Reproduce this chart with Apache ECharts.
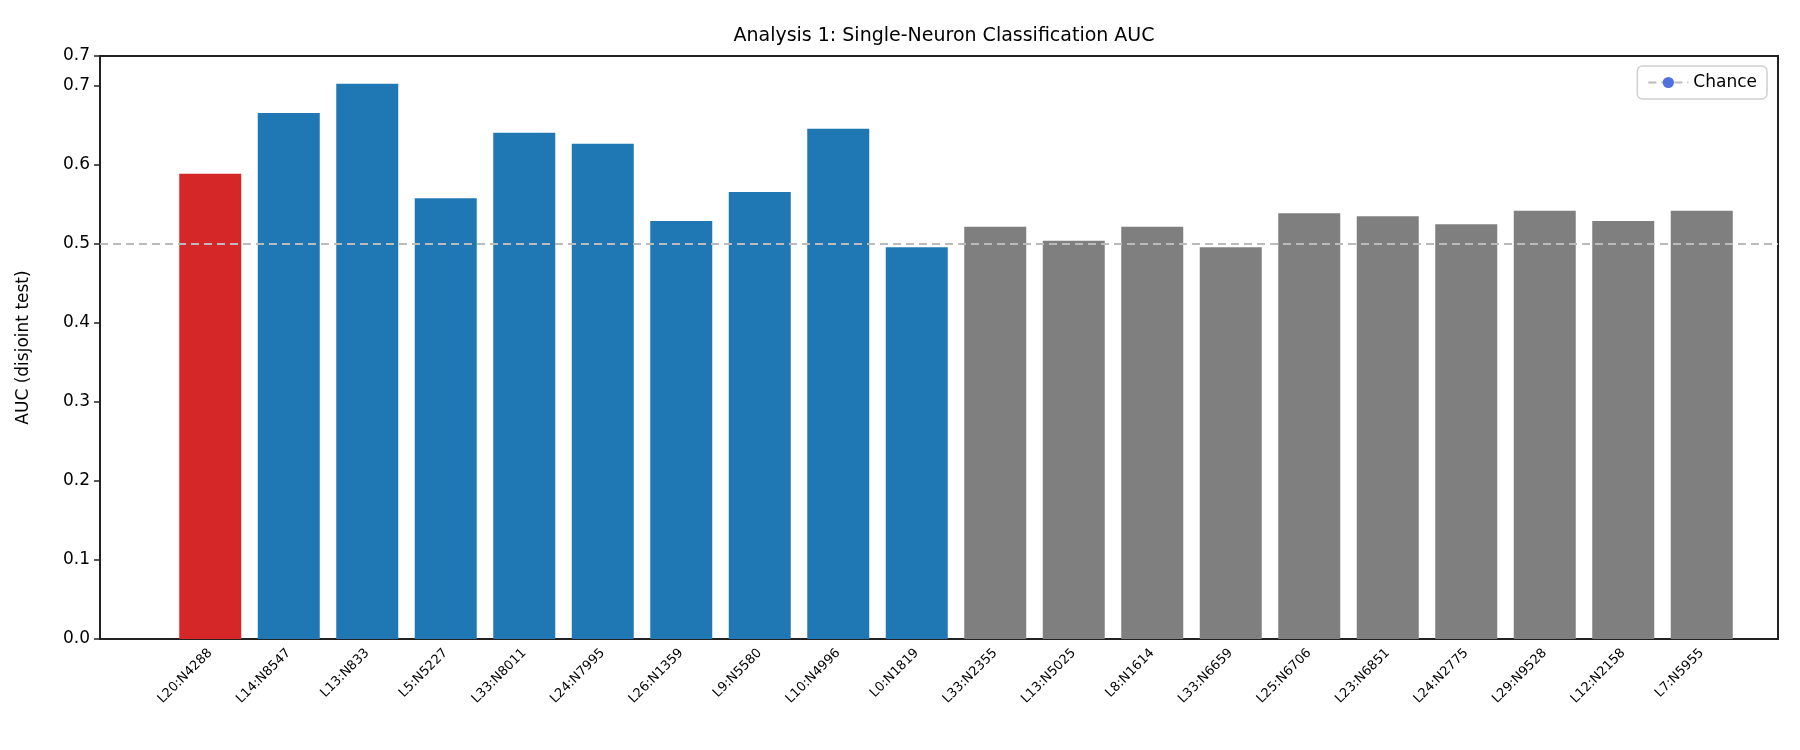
<!DOCTYPE html>
<html>
<head>
<meta charset="utf-8">
<title>Analysis 1</title>
<script src="https://cdn.jsdelivr.net/npm/echarts@6/dist/echarts.min.js"></script>
<style>html,body{margin:0;background:#fff}#c{width:1800px;height:750px}</style>
</head>
<body>
<div id="c"></div>
<script>
var neurons = ['L20:N4288','L14:N8547','L13:N833','L5:N5227','L33:N8011','L24:N7995','L26:N1359','L9:N5580','L10:N4996','L0:N1819',
               'L33:N2355','L13:N5025','L8:N1614','L33:N6659','L25:N6706','L23:N6851','L24:N2775','L29:N9528','L12:N2158','L7:N5955'];
var auc = [0.589,0.666,0.703,0.558,0.641,0.627,0.529,0.566,0.646,0.496,
           0.522,0.504,0.522,0.496,0.539,0.535,0.525,0.542,0.529,0.542];
// 0 = target, 1 = top, 2 = random
var group = [0,1,1,1,1,1,1,1,1,1,2,2,2,2,2,2,2,2,2,2];
var groupColors = ['#d62728','#1f77b4','#7f7f7f'];
var chance = 0.5;
var yTicks = [0,0.1,0.2,0.3,0.4,0.5,0.6,0.7];
var font = 'DejaVu Sans';

var chart = echarts.init(document.getElementById('c'));
chart.setOption({
  animation: false,
  textStyle: {fontFamily: font},
  title: {text: 'Analysis 1: Single-Neuron Classification AUC', left: 939, textAlign: 'center', top: 22,
          textStyle: {fontSize: 19, fontWeight: 'normal', color: '#000', fontFamily: font}},
  legend: {right: 33, top: 66, data: ['Chance'], itemWidth: 40, itemHeight: 14, itemGap: 10,
           borderColor: '#d0d0d0', borderWidth: 1.5, borderRadius: 5, padding: [8, 10, 8, 10],
           textStyle: {fontSize: 17, color: '#000', fontFamily: font}},
  grid: [
    {left: 100, right: 22, top: 56, bottom: 111, show: true, borderColor: '#222', borderWidth: 2, z: 0},
    {left: 171, right: 59, top: 56, bottom: 111}
  ],
  xAxis: [
    {gridIndex: 0, type: 'value', min: 0, max: 1, show: false},
    {gridIndex: 1, type: 'category', data: neurons,
     axisLine: {show: false},
     axisTick: {alignWithLabel: true, length: 6, lineStyle: {color: '#222', width: 1.5}},
     axisLabel: {rotate: 45, fontSize: 13, color: '#000', margin: 12, interval: 0, fontFamily: font}}
  ],
  yAxis: [
    {gridIndex: 0, type: 'value', min: 0, max: 0.738, interval: 0.1,
     name: 'AUC (disjoint test)', nameLocation: 'middle', nameGap: 68,
     nameTextStyle: {fontSize: 17, color: '#000', fontFamily: font},
     splitLine: {show: false},
     axisLine: {show: false},
     axisTick: {show: true, length: 6, lineStyle: {color: '#222', width: 1.5}},
     axisLabel: {fontSize: 17, color: '#000', margin: 10, fontFamily: font,
                 formatter: function (v) { return yTicks.indexOf(Math.round(v * 10) / 10) >= 0 ? v.toFixed(1) : ''; }}},
    {gridIndex: 1, type: 'value', min: 0, max: 0.738, show: false}
  ],
  series: [
    {name: 'Chance', type: 'line', xAxisIndex: 0, yAxisIndex: 0, data: [], symbol: 'none',
     lineStyle: {color: '#bbbbbb', type: [8, 5], width: 2},
     markLine: {silent: true, symbol: 'none', label: {show: false},
                lineStyle: {color: '#bbbbbb', type: [8, 5], width: 2},
                data: [{yAxis: chance}]}},
    {type: 'bar', xAxisIndex: 1, yAxisIndex: 1, barWidth: 62, z: 3,
     data: auc.map(function (v, i) { return {value: v, itemStyle: {color: groupColors[group[i]]}}; })}
  ]
});
</script>
</body>
</html>
